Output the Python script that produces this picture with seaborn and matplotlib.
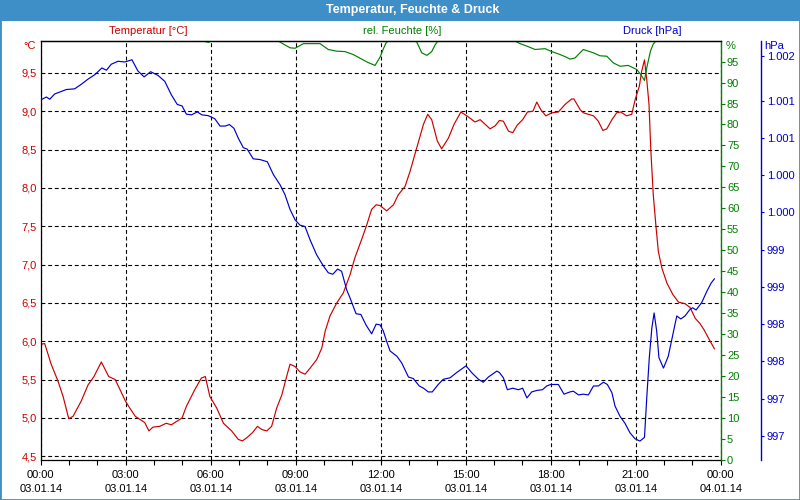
import matplotlib
matplotlib.use("Agg")
import matplotlib.pyplot as plt
import seaborn as sns
import pandas as pd
from matplotlib.ticker import FixedLocator, MultipleLocator, FuncFormatter
from matplotlib.patches import Rectangle

# ---------------- data (hours since 03.01.14 00:00) ----------------
temp_hours = [0.00, 0.14, 0.37, 0.61, 0.79, 0.99, 1.14, 1.43, 1.67, 1.88,
              2.14, 2.40, 2.63, 2.99, 3.14, 3.34, 3.67, 3.82, 3.96, 4.20,
              4.43, 4.61, 4.99, 5.14, 5.44, 5.67, 5.81, 5.97, 6.21, 6.45,
              6.74, 6.97, 7.12, 7.27, 7.48, 7.65, 7.80, 7.98, 8.15, 8.33,
              8.51, 8.68, 8.80, 8.98, 9.15, 9.33, 9.51, 9.74, 9.92, 10.04,
              10.21, 10.45, 10.68, 10.92, 11.09, 11.33, 11.51, 11.68, 11.84, 11.98,
              12.21, 12.45, 12.62, 12.86, 13.04, 13.27, 13.51, 13.66, 13.80, 14.00,
              14.15, 14.39, 14.59, 14.83, 15.04, 15.33, 15.51, 15.86, 16.04, 16.19,
              16.33, 16.51, 16.66, 16.82, 17.01, 17.18, 17.37, 17.51, 17.65, 17.83,
              18.04, 18.27, 18.51, 18.74, 18.82, 19.04, 19.15, 19.51, 19.68, 19.84,
              19.98, 20.16, 20.33, 20.47, 20.68, 20.86, 20.98, 21.13, 21.21, 21.31,
              21.39, 21.47, 21.53, 21.62, 21.72, 21.80, 21.92, 22.10, 22.31, 22.51,
              22.74, 22.92, 23.10, 23.27, 23.41, 23.57, 23.78]
temp_values = [5.96, 5.97, 5.70, 5.48, 5.28, 4.99, 5.02, 5.22, 5.43, 5.54,
               5.73, 5.54, 5.50, 5.22, 5.13, 5.02, 4.94, 4.83, 4.88, 4.89,
               4.93, 4.91, 5.00, 5.15, 5.37, 5.52, 5.54, 5.28, 5.13, 4.93,
               4.83, 4.72, 4.70, 4.74, 4.81, 4.89, 4.85, 4.83, 4.89, 5.13,
               5.30, 5.54, 5.70, 5.67, 5.60, 5.57, 5.65, 5.76, 5.91, 6.13,
               6.33, 6.50, 6.63, 6.87, 7.09, 7.33, 7.52, 7.72, 7.78, 7.77,
               7.70, 7.78, 7.91, 8.02, 8.22, 8.52, 8.83, 8.96, 8.89, 8.61,
               8.51, 8.65, 8.83, 8.99, 8.94, 8.86, 8.89, 8.77, 8.81, 8.88,
               8.87, 8.74, 8.72, 8.82, 8.89, 8.99, 9.00, 9.12, 9.02, 8.94,
               8.98, 8.99, 9.09, 9.16, 9.16, 9.02, 8.98, 8.94, 8.87, 8.75,
               8.77, 8.89, 8.98, 8.99, 8.94, 8.96, 9.15, 9.33, 9.52, 9.67,
               9.41, 9.09, 8.52, 7.91, 7.48, 7.17, 6.96, 6.76, 6.61, 6.51,
               6.49, 6.44, 6.30, 6.23, 6.15, 6.04, 5.90]

hum_hours = [0.00, 5.62, 5.80, 5.92, 6.05, 8.27, 8.39, 8.59, 8.80, 8.98,
             9.27, 9.86, 10.15, 10.45, 10.74, 11.03, 11.33, 11.55, 11.80, 11.98,
             12.09, 12.19, 12.29, 13.18, 13.28, 13.45, 13.63, 13.80, 13.92, 14.03,
             16.67, 16.74, 16.92, 17.16, 17.45, 17.80, 18.04, 18.33, 18.54, 18.68,
             18.86, 19.15, 19.51, 19.74, 19.98, 20.21, 20.45, 20.74, 21.04, 21.19,
             21.31, 21.39, 21.52, 21.62, 21.72, 24.00]
hum_values = [100, 100, 99.8, 99.6, 100, 100, 99.9, 99.1, 98.3, 98.2,
              99.3, 99.3, 97.9, 97.5, 97.4, 96.7, 95.6, 94.8, 94.1, 96.1,
              98.0, 99.5, 100, 100, 99.6, 97.1, 96.5, 97.4, 99.0, 100,
              100, 99.9, 99.3, 98.7, 97.9, 98.1, 97.4, 96.7, 96.1, 95.6,
              95.9, 97.9, 97.1, 96.4, 96.3, 94.7, 93.9, 94.1, 93.1, 91.8,
              90.5, 93.5, 97.5, 99.2, 100, 100]

press_hours = [0.00, 0.20, 0.32, 0.49, 0.90, 1.20, 1.43, 1.67, 1.91, 2.16,
               2.32, 2.49, 2.73, 2.97, 3.22, 3.43, 3.65, 3.88, 4.14, 4.38,
               4.61, 4.82, 4.99, 5.14, 5.32, 5.53, 5.69, 5.91, 6.14, 6.33,
               6.51, 6.66, 6.82, 6.97, 7.15, 7.29, 7.50, 7.74, 8.00, 8.21,
               8.45, 8.62, 8.80, 8.98, 9.15, 9.33, 9.51, 9.74, 9.98, 10.15,
               10.31, 10.48, 10.62, 10.80, 10.92, 11.13, 11.30, 11.48, 11.68, 11.84,
               11.98, 12.09, 12.21, 12.33, 12.57, 12.74, 12.98, 13.15, 13.36, 13.51,
               13.68, 13.82, 14.03, 14.21, 14.45, 14.68, 15.01, 15.21, 15.45, 15.62,
               15.80, 16.10, 16.19, 16.33, 16.47, 16.66, 16.86, 17.01, 17.16, 17.33,
               17.51, 17.71, 17.86, 18.00, 18.27, 18.47, 18.68, 18.80, 18.98, 19.15,
               19.33, 19.51, 19.68, 19.86, 20.00, 20.16, 20.27, 20.45, 20.62, 20.80,
               20.98, 21.15, 21.31, 21.39, 21.48, 21.57, 21.65, 21.74, 21.82, 21.98,
               22.15, 22.31, 22.45, 22.59, 22.74, 22.92, 23.01, 23.13, 23.33, 23.51,
               23.66, 23.78]
press_values = [1001.31, 1001.35, 1001.32, 1001.39, 1001.45, 1001.46, 1001.52, 1001.59, 1001.65, 1001.74,
                1001.71, 1001.79, 1001.83, 1001.82, 1001.85, 1001.70, 1001.62, 1001.69, 1001.64, 1001.56,
                1001.38, 1001.25, 1001.23, 1001.12, 1001.11, 1001.15, 1001.11, 1001.10, 1001.06, 1000.96,
                1000.96, 1000.98, 1000.93, 1000.80, 1000.67, 1000.65, 1000.52, 1000.51, 1000.48, 1000.31,
                1000.17, 1000.04, 999.84, 999.70, 999.63, 999.61, 999.43, 999.23, 999.08, 998.99,
                998.97, 999.04, 999.01, 998.76, 998.65, 998.44, 998.43, 998.29, 998.17, 998.30,
                998.29, 998.21, 998.07, 997.94, 997.87, 997.78, 997.59, 997.57, 997.47, 997.44,
                997.39, 997.39, 997.49, 997.56, 997.58, 997.65, 997.74, 997.65, 997.56, 997.52,
                997.59, 997.67, 997.65, 997.58, 997.42, 997.44, 997.42, 997.44, 997.31, 997.39,
                997.41, 997.42, 997.47, 997.49, 997.49, 997.36, 997.39, 997.40, 997.35, 997.36,
                997.35, 997.47, 997.47, 997.52, 997.49, 997.38, 997.20, 997.06, 996.97, 996.84,
                996.76, 996.73, 996.78, 997.31, 997.85, 998.25, 998.45, 998.21, 997.85, 997.71,
                997.87, 998.16, 998.41, 998.37, 998.41, 998.50, 998.52, 998.49, 998.59, 998.74,
                998.85, 998.91]

x_tick_hours = [0, 3, 6, 9, 12, 15, 18, 21, 24]
x_tick_labels = ["00:00\n03.01.14", "03:00\n03.01.14", "06:00\n03.01.14",
                 "09:00\n03.01.14", "12:00\n03.01.14", "15:00\n03.01.14",
                 "18:00\n03.01.14", "21:00\n03.01.14", "00:00\n04.01.14"]
temp_ticks = [4.5, 5.0, 5.5, 6.0, 6.5, 7.0, 7.5, 8.0, 8.5, 9.0, 9.5]
hum_ticks = [0, 5, 10, 15, 20, 25, 30, 35, 40, 45, 50, 55, 60, 65, 70, 75, 80, 85, 90, 95]
press_ticks = [996.8, 997.3, 997.8, 998.3, 998.8, 999.3, 999.8, 1000.3, 1000.8, 1001.3, 1001.9]

series_labels = ["Temperatur [°C]", "rel. Feuchte [%]", "Druck [hPa]"]
title = "Temperatur, Feuchte & Druck"

# ---------------- styling ----------------
RED = "#cc0000"
GREEN = "#008000"
BLUE = "#0000cc"
BAR = "#3e8ec8"

sns.set_theme(style="ticks")
plt.rcParams['font.family'] = ['Liberation Sans', 'DejaVu Sans']

W, H = 800, 500
fig = plt.figure(figsize=(8, 5), dpi=100)
fig.patch.set_facecolor("white")

L, R, T, B = 40.7, 720.7, 40.7, 459.7
ax = fig.add_axes([L / W, 1 - B / H, (R - L) / W, (B - T) / H])
ax.set_facecolor("white")

df_t = pd.DataFrame({"h": temp_hours, "v": temp_values})
df_h = pd.DataFrame({"h": hum_hours, "v": hum_values})
df_p = pd.DataFrame({"h": press_hours, "v": press_values})

sns.lineplot(data=df_t, x="h", y="v", ax=ax, color=RED, linewidth=0.85)
ax.set_xlim(0, 24)
ax.set_ylim(4.455, 9.92)
ax.set_xlabel("")
ax.set_ylabel("")

ax.yaxis.set_major_locator(FixedLocator(temp_ticks))
ax.yaxis.set_major_formatter(FuncFormatter(lambda v, p: f"{v:.1f}".replace(".", ",")))
ax.xaxis.set_major_locator(FixedLocator(x_tick_hours))
ax.set_xticklabels(x_tick_labels, linespacing=1.45)
ax.xaxis.set_minor_locator(MultipleLocator(1))

ax.grid(True, which="major", color="black", linestyle=(0, (3.5, 2.5)), linewidth=0.8)
ax.tick_params(axis="y", which="both", left=True, right=False, length=0, pad=3,
               labelcolor=RED, labelsize=8)
ax.tick_params(axis="x", which="both", bottom=True, top=False, direction="out",
               length=3.5, width=0.8, color="black", labelsize=8, pad=4,
               labelcolor="black")
for s in ["left", "bottom", "top"]:
    ax.spines[s].set_color("black")
    ax.spines[s].set_linewidth(0.9)
    ax.spines[s].set_visible(True)
ax.spines["right"].set_visible(False)

# humidity axis
axh = ax.twinx()
sns.lineplot(data=df_h, x="h", y="v", ax=axh, color=GREEN, linewidth=0.85)
axh.set_xlim(0, 24)
axh.set_ylim(0, 100)
axh.set_ylabel("")
axh.yaxis.set_major_locator(FixedLocator(hum_ticks))
axh.yaxis.set_major_formatter(FuncFormatter(lambda v, p: f"{v:.0f}"))
axh.tick_params(axis="y", which="both", right=True, left=False, direction="out",
                length=3, width=0.8, colors=GREEN, labelsize=8, pad=1.5)
axh.spines["right"].set_color(GREEN)
axh.spines["right"].set_linewidth(1.0)
axh.spines["top"].set_color("black")
axh.spines["top"].set_linewidth(0.9)
axh.spines["left"].set_visible(False)
axh.spines["bottom"].set_visible(False)

# pressure axis
axp = ax.twinx()
sns.lineplot(data=df_p, x="h", y="v", ax=axp, color=BLUE, linewidth=0.85)
axp.set_xlim(0, 24)
axp.set_ylim(996.48, 1002.106)
axp.set_ylabel("")
axp.spines["right"].set_position(("outward", 28.8))
axp.spines["right"].set_color(BLUE)
axp.spines["right"].set_linewidth(1.0)
for s in ["left", "top", "bottom"]:
    axp.spines[s].set_visible(False)
axp.yaxis.set_major_locator(FixedLocator(press_ticks))
axp.yaxis.set_major_formatter(
    FuncFormatter(lambda v, p: f"{int(round(v)):,}".replace(",", ".")))
axp.tick_params(axis="y", which="both", right=True, left=False, direction="out",
                length=2.5, width=0.8, colors=BLUE, labelsize=8, pad=2)

# ---------------- figure decorations ----------------
fig.add_artist(Rectangle((0, 1 - 21 / H), 1, 21 / H, transform=fig.transFigure,
                         facecolor=BAR, edgecolor="none", zorder=0))
fig.add_artist(Rectangle((0, 0), 1, 1, transform=fig.transFigure, fill=False,
                         edgecolor=BAR, linewidth=2, zorder=10))
fig.text(413 / W, 1 - 10.5 / H, title, color="white", fontweight="bold",
         ha="center", va="center", fontsize=9)

fig.text(148 / W, 1 - 31 / H, series_labels[0], color=RED, ha="center", va="center", fontsize=8)
fig.text(402 / W, 1 - 31 / H, series_labels[1], color=GREEN, ha="center", va="center", fontsize=8)
fig.text(652 / W, 1 - 31 / H, series_labels[2], color=BLUE, ha="center", va="center", fontsize=8)

fig.text(36 / W, 1 - 46 / H, "°C", color=RED, ha="right", va="center", fontsize=8)
fig.text(726 / W, 1 - 46 / H, "%", color=GREEN, ha="left", va="center", fontsize=8)
fig.text(764 / W, 1 - 46 / H, "hPa", color=BLUE, ha="left", va="center", fontsize=8)

fig.savefig("out.png", dpi=100)
